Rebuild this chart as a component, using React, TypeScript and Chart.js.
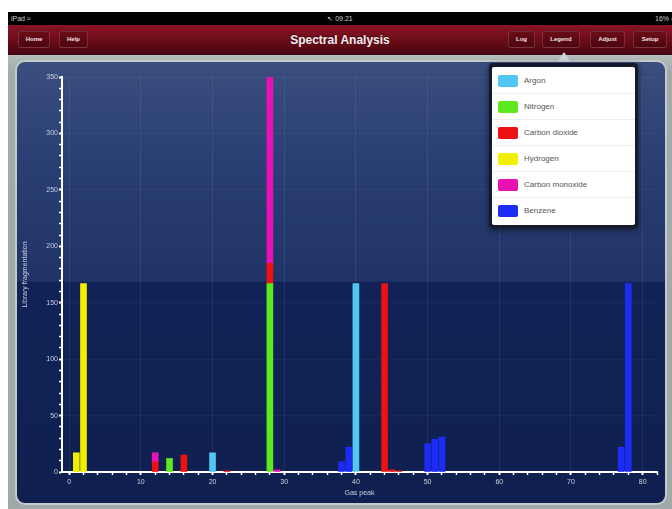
import React, { useEffect, useRef } from "react";
import { Chart, registerables } from "chart.js";

Chart.register(...registerables);

// ---- Data ----
const seriesNames = ["Argon", "Nitrogen", "Carbon dioxide", "Hydrogen", "Carbon monoxide", "Benzene"];
const seriesColors = ["#52c6f4", "#5ee81e", "#ee1111", "#f2ee00", "#e812b4", "#1c2cf2"];

const argonPeaks = [20, 40];
const argonValues = [17, 167];
const nitrogenPeaks = [14, 28];
const nitrogenValues = [12, 167];
const co2Peaks = [12, 16, 22, 28, 44, 45, 46];
const co2Values = [9, 15, 1, 18, 167, 2, 1];
const hydrogenPeaks = [1, 2];
const hydrogenValues = [17, 167];
const coPeaks = [12, 28, 29];
const coValues = [8, 165, 2];
const benzenePeaks = [38, 39, 50, 51, 52, 77, 78];
const benzeneValues = [9, 22, 25, 29, 31, 22, 167];

const seriesPeaks = [argonPeaks, nitrogenPeaks, co2Peaks, hydrogenPeaks, coPeaks, benzenePeaks];
const seriesValues = [argonValues, nitrogenValues, co2Values, hydrogenValues, coValues, benzeneValues];

const xTickLabels = [0, 10, 20, 30, 40, 50, 60, 70, 80];
const yTickLabels = [0, 50, 100, 150, 200, 250, 300, 350];

const navLeftButtons = ["Home", "Help"];
const navRightButtons = ["Log", "Legend", "Adjust", "Setup"];

function SpectrumChart() {
  const ref = useRef<HTMLCanvasElement | null>(null);
  useEffect(() => {
    if (!ref.current) return;
    const datasets = seriesNames.map((name, i) => ({
      label: name,
      data: seriesPeaks[i].map((p, j) => ({ x: p, y: seriesValues[i][j] })),
      backgroundColor: seriesColors[i],
      borderWidth: 0,
      barThickness: 6,
    }));
    const tickColor = "#c9d0e0";
    const chart = new Chart(ref.current, {
      type: "bar",
      data: { datasets },
      options: {
        animation: false,
        responsive: false,
        layout: { padding: { top: 15, right: 8, left: 0, bottom: 0 } },
        plugins: { legend: { display: false }, tooltip: { enabled: false } },
        scales: {
          x: {
            type: "linear",
            stacked: true,
            offset: false,
            min: -1,
            max: 82,
            afterFit: (s: any) => { s.height = 31; },
            border: { color: "#ffffff", width: 2 },
            grid: {
              offset: false,
              color: (c: any) => (c.tick && xTickLabels.includes(c.tick.value) ? "rgba(255,255,255,0.07)" : "rgba(0,0,0,0)"),
              tickColor: "#ffffff",
              tickLength: 3,
              tickWidth: (c: any) => (c.tick && xTickLabels.includes(c.tick.value) ? 2 : 1.5),
            },
            ticks: {
              stepSize: 2,
              includeBounds: false,
              autoSkip: false,
              maxRotation: 0,
              padding: 3,
              color: tickColor,
              font: { size: 7, family: "Liberation Sans" },
              callback: (v: any) => (xTickLabels.includes(Number(v)) ? String(v) : ""),
            },
            title: {
              display: true,
              text: "Gas peak",
              color: tickColor,
              font: { size: 7, family: "Liberation Sans" },
              padding: { top: 0, bottom: 6 },
            },
          },
          y: {
            stacked: true,
            min: 0,
            max: 350,
            afterFit: (s: any) => { s.width = 45; },
            border: { color: "#ffffff", width: 2 },
            grid: {
              color: (c: any) => (c.tick && yTickLabels.includes(c.tick.value) ? "rgba(255,255,255,0.04)" : "rgba(0,0,0,0)"),
              tickColor: "#ffffff",
              tickLength: 3,
              tickWidth: (c: any) => (c.tick && yTickLabels.includes(c.tick.value) ? 2 : 1.5),
            },
            ticks: {
              stepSize: 10,
              autoSkip: false,
              padding: 1,
              color: tickColor,
              font: { size: 7, family: "Liberation Sans" },
              callback: (v: any) => (yTickLabels.includes(Number(v)) ? String(v) : ""),
            },
            title: {
              display: true,
              text: "Library fragmentation",
              color: tickColor,
              font: { size: 7, family: "Liberation Sans" },
              padding: { top: 4, bottom: 0 },
            },
          },
        },
      },
    } as any);
    return () => chart.destroy();
  }, []);
  return <canvas ref={ref} width={648} height={441} style={{ position: "absolute", left: 0, top: 0, width: 648, height: 441 }} />;
}

const btnStyle: React.CSSProperties = {
  position: "absolute",
  top: 31,
  height: 17,
  boxSizing: "border-box",
  border: "1px solid rgba(255,255,255,0.16)",
  borderRadius: 3,
  background: "linear-gradient(#6a0d18, #4c0610)",
  color: "#f2e6e8",
  fontFamily: "Liberation Sans",
  fontWeight: "bold",
  fontSize: 6,
  lineHeight: "15px",
  textAlign: "center",
};

const navLeftPos = [[18, 32], [59, 29]];
const navRightPos = [[508, 27], [542, 38], [590, 35], [633, 34]];

export default function App() {
  return (
    <div style={{ position: "fixed", left: 0, top: 0, width: 672, height: 509, overflow: "hidden", background: "#ffffff" }}>
      {/* status bar */}
      <div style={{ position: "absolute", left: 8, top: 12, width: 664, height: 13, background: "#000", color: "#cfcfcf", fontFamily: "Liberation Sans", fontSize: 7, lineHeight: "13px" }}>
        <span style={{ position: "absolute", left: 3 }}>iPad ≈</span>
        <span style={{ position: "absolute", left: 0, width: 664, textAlign: "center" }}>↖ 09:21</span>
        <span style={{ position: "absolute", left: 647, whiteSpace: "nowrap" }}>16% ▭</span>
      </div>
      {/* nav bar */}
      <div style={{ position: "absolute", left: 8, top: 25, width: 664, height: 30, background: "linear-gradient(#8a1424 0%, #6e0c19 50%, #420510 100%)" }} />
      <div style={{ position: "absolute", left: 8, top: 25, width: 664, height: 30, lineHeight: "30px", textAlign: "center", color: "#f4eef0", fontFamily: "Liberation Sans", fontWeight: "bold", fontSize: 12, textShadow: "0 -1px 0 rgba(0,0,0,0.5)" }}>
        Spectral Analysis
      </div>
      {navLeftButtons.map((b, i) => (
        <div key={b} style={{ ...btnStyle, left: navLeftPos[i][0], width: navLeftPos[i][1] }}>{b}</div>
      ))}
      {navRightButtons.map((b, i) => (
        <div key={b} style={{ ...btnStyle, left: navRightPos[i][0], width: navRightPos[i][1] }}>{b}</div>
      ))}
      {/* grey background */}
      <div style={{ position: "absolute", left: 8, top: 55, width: 664, height: 454, background: "linear-gradient(#b4bcbc, #a2abab 4%, #a0a9a9)" }} />
      {/* panel */}
      <div style={{ position: "absolute", left: 15, top: 60, width: 652, height: 445, boxSizing: "border-box", borderRadius: 10, border: "2px solid #c3caca", background: "linear-gradient(180deg, #3a4e7f 0%, #2b4074 20%, #1f3367 49.6%, #112356 50%, #0f1f50 100%)", overflow: "hidden" }}>
        <SpectrumChart />
      </div>
      {/* popover arrow */}
      <div style={{ position: "absolute", left: 557, top: 52, width: 0, height: 0, borderLeft: "7px solid transparent", borderRight: "7px solid transparent", borderBottom: "10px solid #cdd3da" }} />
      {/* legend popover */}
      <div style={{ position: "absolute", left: 489, top: 63, width: 149, height: 165, background: "#141a2c", borderRadius: 4, boxShadow: "0 2px 6px rgba(0,0,0,0.6)" }} />
      <div style={{ position: "absolute", left: 492, top: 67, width: 143, height: 158, background: "#ffffff", borderRadius: 2 }}>
        {seriesNames.map((n, i) => (
          <div key={n} style={{ position: "absolute", left: 0, top: 1 + i * 26, width: 143, height: 26, boxSizing: "border-box", borderBottom: i < seriesNames.length - 1 ? "1px solid #eeeeee" : "none" }}>
            <div style={{ position: "absolute", left: 6, top: 7, width: 20, height: 12, borderRadius: 2, background: seriesColors[i] }} />
            <div style={{ position: "absolute", left: 32, top: 0, lineHeight: "26px", fontFamily: "Liberation Sans", fontSize: 8, color: "#555" }}>{n}</div>
          </div>
        ))}
      </div>
    </div>
  );
}
